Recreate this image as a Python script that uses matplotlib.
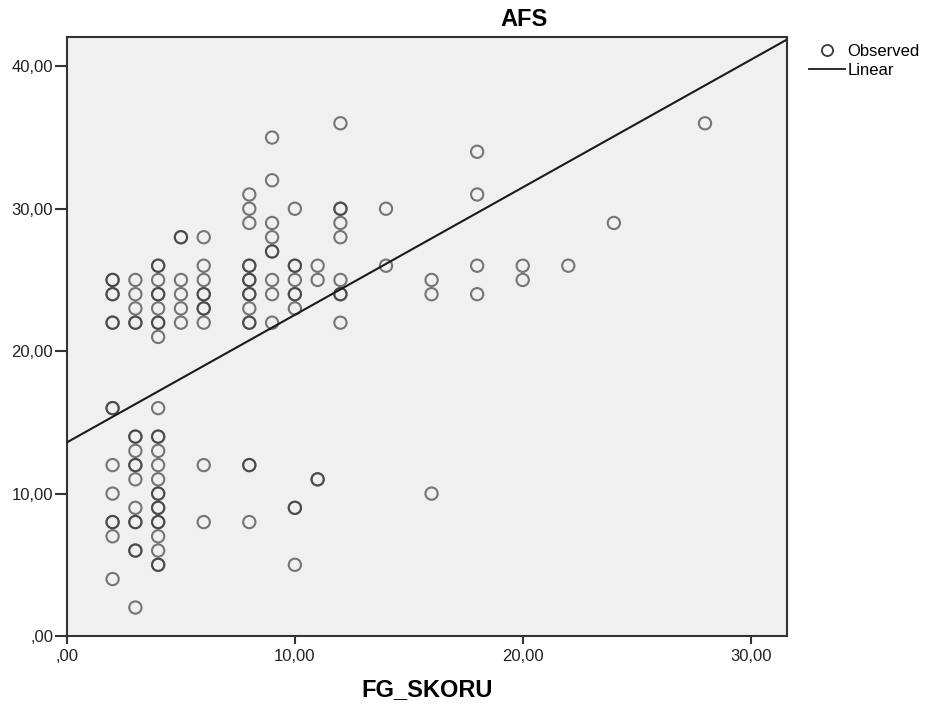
import numpy as np
import matplotlib
matplotlib.use("Agg")
import matplotlib.pyplot as plt
from matplotlib.lines import Line2D
from matplotlib.ticker import FuncFormatter

plt.rcParams['font.family'] = ['Liberation Sans', 'DejaVu Sans']

# observed points (FG_SKORU, AFS); repeated pairs are overlapping cases
fg_skoru = [2]*9 + [2]*5 \
    + [3]*12 + [3]*5 \
    + [4]*17 + [4]*8 \
    + [5]*5 + [5] \
    + [6]*8 + [6]*2 \
    + [8]*10 + [8]*5 \
    + [9]*8 + [9] \
    + [10]*7 + [10]*3 \
    + [11]*3 + [11] \
    + [12]*7 + [12]*2 \
    + [14]*2 + [16]*3 + [18]*4 + [20]*2 + [22] + [24] + [28]
afs = [25, 24, 22, 16, 12, 10, 8, 7, 4] + [25, 24, 22, 16, 8] \
    + [25, 24, 23, 22, 14, 13, 12, 11, 9, 8, 6, 2] + [22, 14, 12, 8, 6] \
    + [26, 25, 24, 23, 22, 21, 16, 14, 13, 12, 11, 10, 9, 8, 7, 6, 5] \
    + [26, 24, 22, 14, 10, 9, 8, 5] \
    + [28, 25, 24, 23, 22] + [28] \
    + [28, 26, 25, 24, 23, 22, 12, 8] + [24, 23] \
    + [31, 30, 29, 26, 25, 24, 23, 22, 12, 8] + [26, 25, 24, 22, 12] \
    + [35, 32, 29, 28, 27, 25, 24, 22] + [27] \
    + [30, 26, 25, 24, 23, 9, 5] + [26, 24, 9] \
    + [26, 25, 11] + [11] \
    + [36, 30, 29, 28, 25, 24, 22] + [30, 24] \
    + [30, 26] + [25, 24, 10] + [34, 31, 26, 24] + [26, 25] + [26] + [29] + [36]

# linear fit as shown
intercept = 13.6
slope = 0.895

x_max = 31.6
y_max = 42.06
x_ticks = [0, 10, 20, 30]
y_ticks = [0, 10, 20, 30, 40]


def comma_fmt(v, pos):
    if v == 0:
        return ',00'
    return ('%.2f' % v).replace('.', ',')


fig = plt.figure(figsize=(9.27, 7.07), dpi=100)
ax = fig.add_axes([0.0723, 0.1004, 0.7767, 0.8473])
ax.set_facecolor('#f0f0f0')

ax.scatter(fg_skoru, afs, s=78, facecolors='none', edgecolors='#333333',
           linewidths=1.5, alpha=0.65, zorder=3)

xs = np.array([0, x_max])
ax.plot(xs, intercept + slope * xs, color='#1a1a1a', lw=1.5, zorder=4)

ax.set_xlim(0, x_max)
ax.set_ylim(0, y_max)
ax.set_xticks(x_ticks)
ax.set_yticks(y_ticks)
ax.xaxis.set_major_formatter(FuncFormatter(comma_fmt))
ax.yaxis.set_major_formatter(FuncFormatter(comma_fmt))
ax.tick_params(axis='both', direction='out', width=1.5,
               color='#333333', labelsize=12, labelcolor='#222222')
ax.tick_params(axis='x', length=6, pad=3)
ax.tick_params(axis='y', length=9, pad=1)
for sp in ax.spines.values():
    sp.set_color('#333333')
    sp.set_linewidth(1.5)

fig.text(0.565, 0.973, 'AFS', ha='center', va='center',
         fontsize=17, fontweight='bold')
fig.text(0.461, 0.024, 'FG_SKORU', ha='center', va='center',
         fontsize=17, fontweight='bold')

handles = [
    Line2D([], [], marker='o', ls='none', mfc='none', mec='#3a3a3a',
           mew=1.3, ms=8),
    Line2D([], [], color='#1a1a1a', lw=1.3),
]
fig.legend(handles, ['Observed', 'Linear'], loc='upper left',
           bbox_to_anchor=(0.865, 0.947), frameon=False, fontsize=12,
           handlelength=2.2, handletextpad=0.15, borderaxespad=0,
           labelspacing=0.25)

fig.savefig('out.png', dpi=100)
